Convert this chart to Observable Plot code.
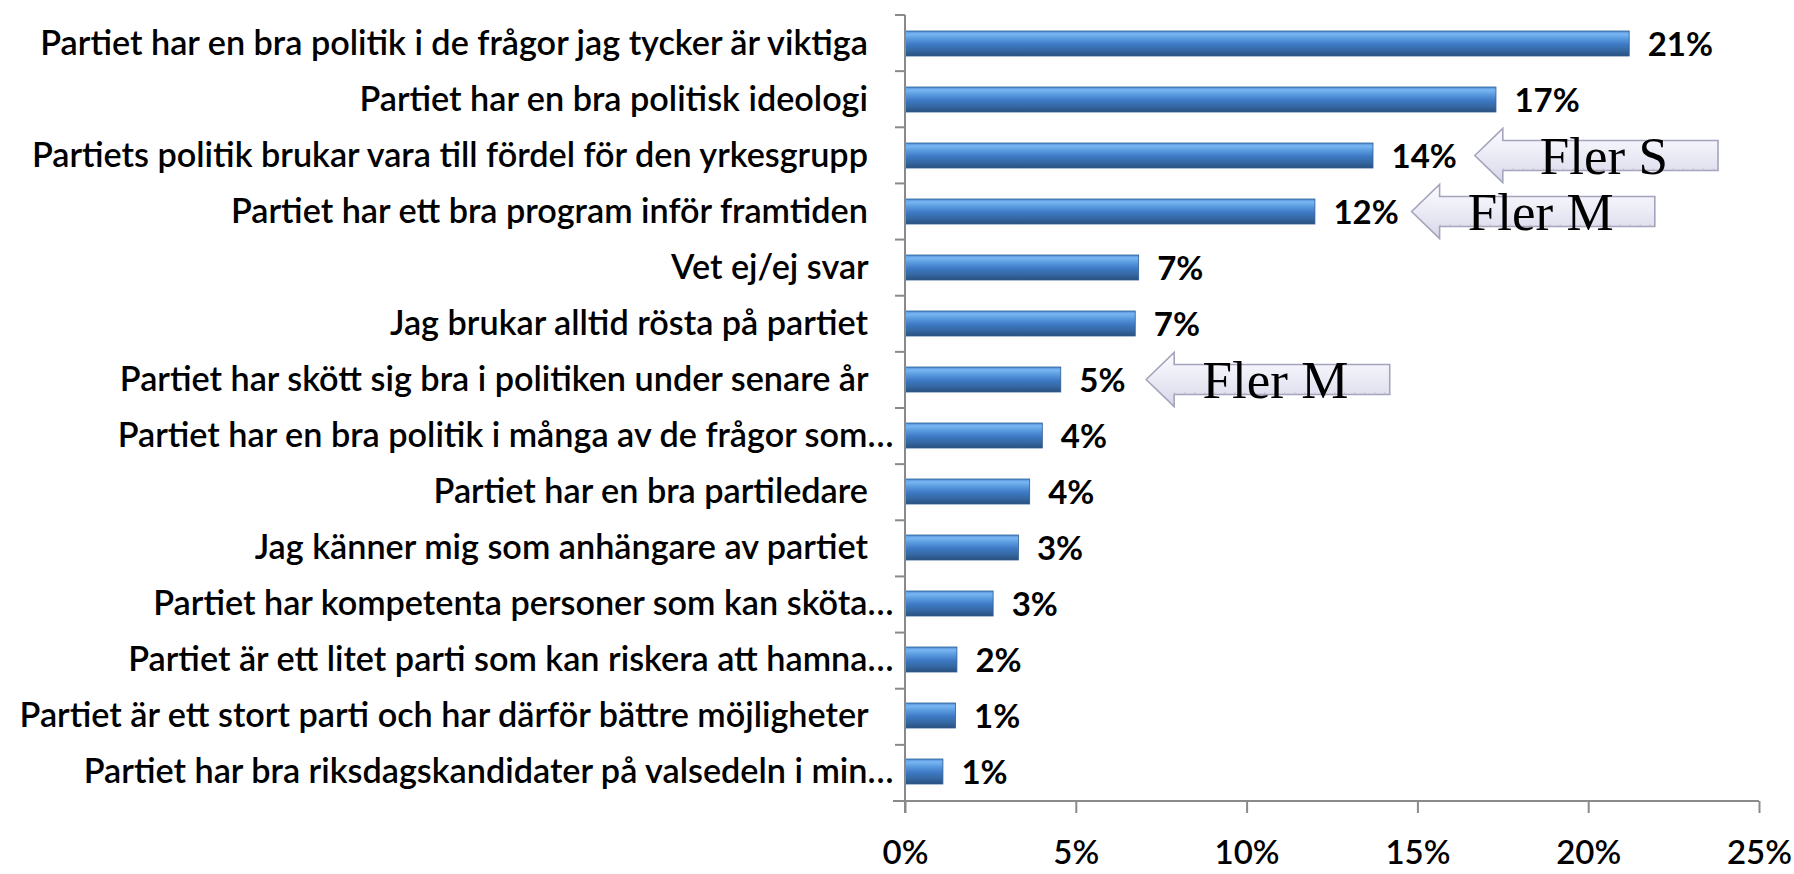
<!DOCTYPE html>
<html>
<head>
<meta charset="utf-8">
<script src="https://cdn.jsdelivr.net/npm/d3@7"></script>
<script src="https://cdn.jsdelivr.net/npm/@observablehq/plot@0.6"></script>
<style>
  html, body { margin: 0; padding: 0; background: #fff; }
  #chart svg { display: block; }
</style>
</head>
<body>
<div id="chart"></div>
<script>
// ---- data ----
const categories = [
  "Partiet har en bra politik i de frågor jag tycker är viktiga",
  "Partiet har en bra politisk ideologi",
  "Partiets politik brukar vara till fördel för den yrkesgrupp",
  "Partiet har ett bra program inför framtiden",
  "Vet ej/ej svar",
  "Jag brukar alltid rösta på partiet",
  "Partiet har skött sig bra i politiken under senare år",
  "Partiet har en bra politik i många av de frågor som…",
  "Partiet har en bra partiledare",
  "Jag känner mig som anhängare av partiet",
  "Partiet har kompetenta personer som kan sköta…",
  "Partiet är ett litet parti som kan riskera att hamna…",
  "Partiet är ett stort parti och har därför bättre möjligheter",
  "Partiet har bra riksdagskandidater på valsedeln i min…"
];
const values = [21.2, 17.3, 13.7, 12.0, 6.84, 6.74, 4.56, 4.02, 3.65, 3.32, 2.58, 1.52, 1.48, 1.11];
const valueLabels = ["21%", "17%", "14%", "12%", "7%", "7%", "5%", "4%", "4%", "3%", "3%", "2%", "1%", "1%"];
const xTicks = [0, 5, 10, 15, 20, 25];
const xTickLabels = ["0%", "5%", "10%", "15%", "20%", "25%"];

// annotation arrows: category row, text, arrow tip and tail in % units
const noteCategories = [categories[2], categories[3], categories[6]];
const noteTexts = ["Fler S", "Fler M", "Fler M"];
const noteTips = [16.68, 14.83, 7.06];
const noteEnds = [23.8, 21.95, 14.19];

const data = categories.map((c, i) => ({category: c, value: values[i], label: valueLabels[i]}));
const notes = noteCategories.map((c, i) => ({category: c, text: noteTexts[i], tip: noteTips[i], end: noteEnds[i]}));

const axisColor = "#8a8a8a";

// axis lines + boundary ticks (category axis ticks sit between bands)
function axisFrame(index, scales, values, dims) {
  const g = d3.create("svg:g");
  const x = scales.x;
  const top = dims.marginTop, bottom = dims.height - dims.marginBottom;
  const n = categories.length;
  const step = (bottom - top) / n;
  const x0 = x(0);
  g.append("line").attr("x1", x0).attr("x2", x0).attr("y1", top).attr("y2", bottom + 12)
    .attr("stroke", axisColor).attr("stroke-width", 2);
  g.append("line").attr("x1", x0 - 12).attr("x2", x(25)).attr("y1", bottom).attr("y2", bottom)
    .attr("stroke", axisColor).attr("stroke-width", 2);
  for (let k = 0; k < n; ++k) {
    const yy = top + k * step;
    g.append("line").attr("x1", x0 - 10).attr("x2", x0).attr("y1", yy).attr("y2", yy)
      .attr("stroke", axisColor).attr("stroke-width", 2);
  }
  return g.node();
}

// block arrows drawn through the x and y scales
function arrows(index, scales, values, dims) {
  const g = d3.create("svg:g");
  const x = scales.x, y = scales.y;
  const bw = y.bandwidth ? y.bandwidth() : 25;
  const hl = 28, hh = 27, bh = 15;
  for (const d of notes) {
    const xt = x(d.tip), xe = x(d.end);
    const cy = y(d.category) + bw / 2;
    const p = `M${xt},${cy} L${xt + hl},${cy - hh} L${xt + hl},${cy - bh} L${xe},${cy - bh} L${xe},${cy + bh} L${xt + hl},${cy + bh} L${xt + hl},${cy + hh} Z`;
    g.append("path").attr("d", p).attr("fill", "url(#arrowGrad)")
      .attr("stroke", "#a4a4bc").attr("stroke-width", 1.6).attr("stroke-linejoin", "miter");
    g.append("line").attr("x1", xt + hl).attr("x2", xe).attr("y1", cy + bh - 1).attr("y2", cy + bh - 1)
      .attr("stroke", "#b9b9c6").attr("stroke-width", 2).attr("stroke-dasharray", "1 9");
  }
  return g.node();
}

const chart = Plot.plot({
  width: 1794,
  height: 874,
  marginLeft: 905,
  marginRight: 35,
  marginTop: 15,
  marginBottom: 73,
  style: {fontFamily: "Lato, 'Open Sans', sans-serif", background: "#fff", color: "#000", overflow: "visible"},
  x: {domain: [0, 25], label: null},
  y: {domain: categories, paddingInner: 0.55, paddingOuter: 0.275, label: null},
  marks: [
    Plot.barX(data, {x: "value", y: "category", fill: "url(#barGrad)", stroke: "#2f5d97", strokeWidth: 0.8}),
    Plot.text(data, {x: "value", y: "category", text: "label", textAnchor: "start", dx: 18, dy: 1,
      fontSize: 33, fontWeight: "bold", fill: "#000"}),
    axisFrame,
    Plot.axisX({ticks: xTicks, tickFormat: (d) => xTickLabels[xTicks.indexOf(d)], tickSize: 12, tickPadding: 27,
      stroke: axisColor, strokeWidth: 2, fill: "#000", fontSize: 33, fontWeight: 600, label: null}),
    Plot.axisY({tickSize: 0, tickPadding: 12, fill: "#000", fontSize: 34.2, fontWeight: 600, label: null,
      tickFormat: (d) => d.endsWith("…") ? d : d + "\u00A0\u00A0\u00A0"}),
    arrows,
    Plot.text(notes, {x: (d) => (d.tip + d.end) / 2, y: "category", text: "text", dx: 7, dy: 1,
      fontSize: 53, fontFamily: "'Liberation Serif', 'Times New Roman', serif", fill: "#000"})
  ]
});

// gradients
const defs = d3.select(chart).insert("defs", ":first-child");
const bg = defs.append("linearGradient").attr("id", "barGrad").attr("x1", 0).attr("y1", 0).attr("x2", 0).attr("y2", 1);
[[0, "#4f8fd8"], [0.12, "#7ab6f2"], [0.3, "#5a9be0"], [0.55, "#3d78c2"], [0.8, "#34679f"], [1, "#2a4f7e"]]
  .forEach(([o, c]) => bg.append("stop").attr("offset", o).attr("stop-color", c));
const ag = defs.append("linearGradient").attr("id", "arrowGrad").attr("x1", 0).attr("y1", 0).attr("x2", 0).attr("y2", 1);
[[0, "#fbfbff"], [0.5, "#ebebf6"], [1, "#d6d6e8"]]
  .forEach(([o, c]) => ag.append("stop").attr("offset", o).attr("stop-color", c));

document.getElementById("chart").appendChild(chart);
</script>
</body>
</html>
